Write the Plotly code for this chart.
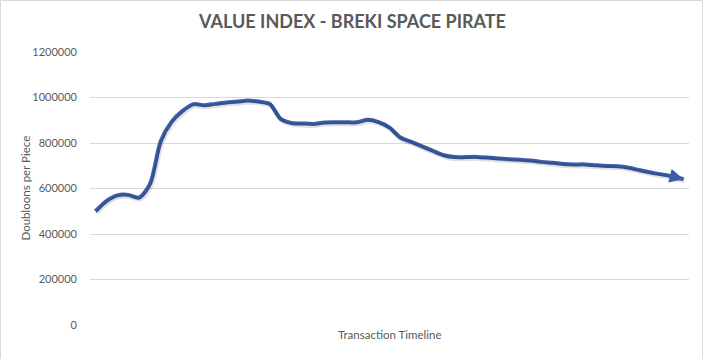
import plotly.graph_objects as go

# ---- data ----
periods = list(range(1, 56))
values = [500000, 545000, 570000, 572000, 560000, 619000, 809000, 894000, 941000, 971000,
          966000, 972000, 978000, 982000, 987000, 982000, 972000, 906000, 888000, 886000,
          884000, 890000, 891000, 891000, 891000, 902000, 892000, 868000, 824000, 805000,
          785000, 765000, 746000, 738000, 738000, 739000, 736000, 732000, 729000, 726000,
          723000, 717000, 713000, 708000, 706000, 706000, 702000, 699000, 698000, 691000,
          680000, 670000, 662000, 653000, 641000]
y_ticks = [0, 200000, 400000, 600000, 800000, 1000000, 1200000]
y_tick_labels = [str(v) for v in y_ticks]

title_text = "VALUE INDEX - BREKI SPACE PIRATE"
x_title = "Transaction Timeline"
y_title = "Doubloons per Piece"

# ---- styling ----
W, H = 705, 359
ML, MR, MT, MB = 90, 16, 52, 34
LINE = "#3A5FA6"
GRID = "#D9D9D9"
TXT = "#595959"
FONT = "Lato, sans-serif"

x_lo, x_hi = periods[0] - 0.5, periods[-1] + 0.5
y_lo, y_hi = y_ticks[0], y_ticks[-1]
plot_w = W - ML - MR
plot_h = H - MT - MB
dx = 1.2 * (x_hi - x_lo) / plot_w
dy = 1.8 * (y_hi - y_lo) / plot_h

fig = go.Figure()
# soft shadow (same data, axes offset by a couple of pixels)
fig.add_trace(go.Scatter(x=periods, y=values, mode="lines", xaxis="x2", yaxis="y2",
                         line=dict(color="rgba(0,0,0,0.12)", width=4.5, shape="spline", smoothing=0.8),
                         hoverinfo="skip", showlegend=False))
fig.add_trace(go.Scatter(x=periods, y=values, mode="lines",
                         line=dict(color=LINE, width=4, shape="spline", smoothing=0.8),
                         showlegend=False))

fig.add_annotation(x=periods[-1], y=values[-1], ax=periods[-2], ay=values[-2],
                   xref="x", yref="y", axref="x", ayref="y", text="",
                   showarrow=True, arrowhead=2, arrowsize=0.7, arrowwidth=4,
                   arrowcolor=LINE, standoff=0)

# axis titles
fig.add_annotation(text=y_title, textangle=-90, showarrow=False,
                   xref="paper", yref="paper", x=(25 - ML) / plot_w, y=0.5,
                   xanchor="center", yanchor="middle",
                   font=dict(family=FONT, size=11.5, color=TXT))
fig.add_annotation(text=x_title, showarrow=False,
                   xref="paper", yref="paper", x=0.5, y=(H - MB - 334) / plot_h,
                   xanchor="center", yanchor="middle",
                   font=dict(family=FONT, size=11.5, color=TXT))

# chart border
fig.add_shape(type="rect", xref="paper", yref="paper",
              x0=(0.5 - ML) / plot_w, x1=(W - 2.5 - ML) / plot_w,
              y0=(MB - (H - 1.0)) / plot_h, y1=(H - 0.5 - MB) / plot_h,
              line=dict(color=GRID, width=1), layer="below")

fig.update_layout(
    width=W, height=H,
    margin=dict(l=ML, r=MR, t=MT, b=MB, autoexpand=False),
    paper_bgcolor="white", plot_bgcolor="white",
    title=dict(text="<b>" + title_text + "</b>", x=(W / 2 - ML) / plot_w, xref="paper",
               y=1 - 22 / H, yref="container", yanchor="middle",
               font=dict(family=FONT, size=18, color=TXT)),
    xaxis=dict(range=[x_lo, x_hi], showticklabels=False, showgrid=False, zeroline=False,
               showline=False, ticks="", automargin=False),
    yaxis=dict(range=[y_lo, y_hi], tickvals=y_ticks, ticktext=y_tick_labels,
               showgrid=True, gridcolor=GRID, gridwidth=1, zeroline=False, showline=False,
               ticks="", ticklabelstandoff=12, automargin=False,
               tickfont=dict(family=FONT, size=11, color=TXT)),
    xaxis2=dict(range=[x_lo - dx, x_hi - dx], overlaying="x", visible=False),
    yaxis2=dict(range=[y_lo + dy, y_hi + dy], overlaying="y", visible=False),
)

fig.write_html("out.html", config={"displayModeBar": False},
               post_script="document.body.style.margin='0';")
